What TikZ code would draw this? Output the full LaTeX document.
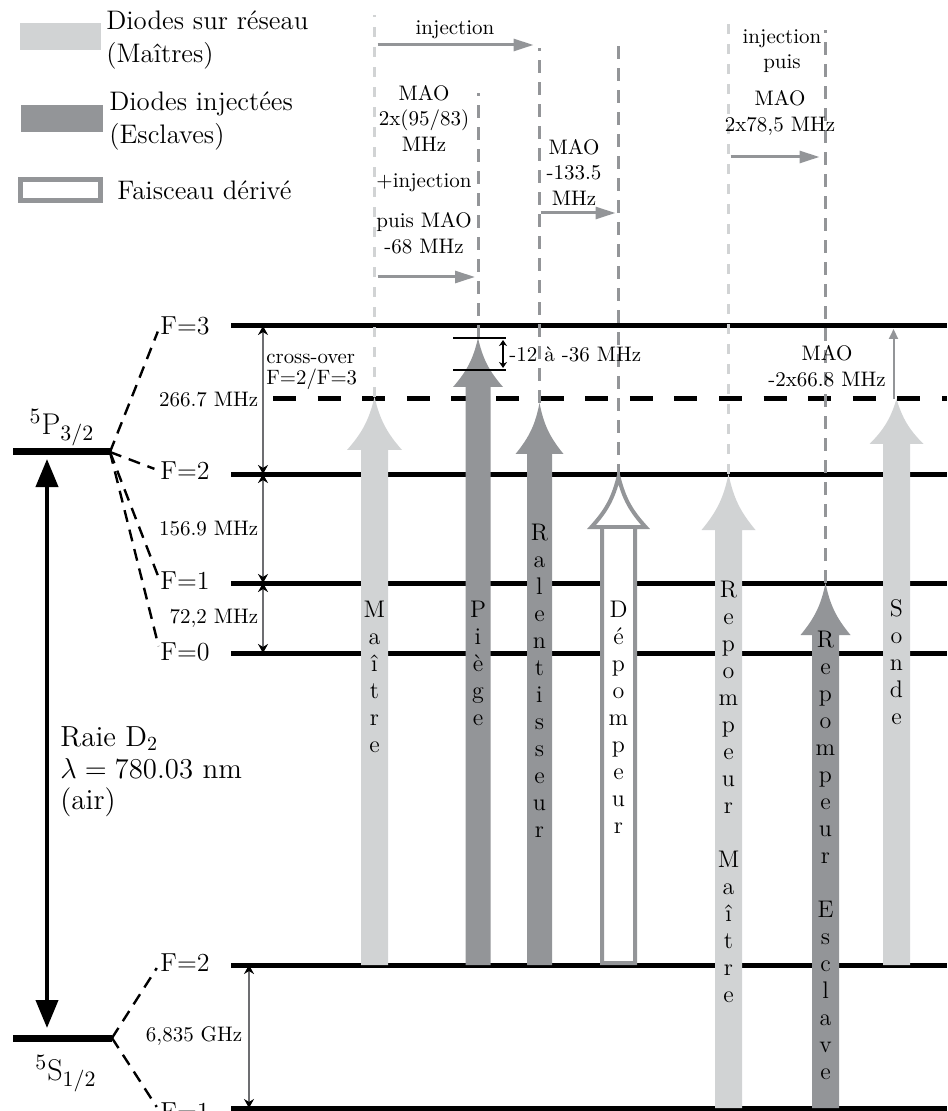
\documentclass[tikz,border=0pt]{standalone}
\usepackage{fontspec}
\usepackage{amsmath}
\usetikzlibrary{arrows.meta}

\definecolor{clair}{HTML}{D1D3D4}
\definecolor{fonce}{HTML}{939598}
\definecolor{trait}{HTML}{6D6E71}

% faisceau : nom, style, x, bas, base de la tete, pointe, demi-largeur, demi-tete
\newcommand{\faisceau}[8]{%
  \fill[#2] (#3-#7,#4) -- (#3-#7,#5) -- (#3-#8,#5) to[bend right=14] (#3,#6)
    to[bend right=14] (#3+#8,#5) -- (#3+#7,#5) -- (#3+#7,#4) -- cycle;
  \coordinate (#1) at (#3,#6);}

\begin{document}
\begin{tikzpicture}[x=0.5pt,y=-0.5pt,
  niveau/.style={line width=2.5pt},
  sousniv/.style={line width=1.2pt,dash pattern=on 6pt off 4pt},
  ecart/.style={draw=trait,line width=0.7pt,{Stealth[length=4.5pt,width=5pt,color=black]}-{Stealth[length=4.5pt,width=5pt,color=black]}},
  guideclair/.style={draw=clair,line width=1.5pt,dash pattern=on 5pt off 5pt},
  guidefonce/.style={draw=fonce,line width=1.5pt,dash pattern=on 6.5pt off 4.5pt},
  mao/.style={draw=fonce,line width=1.5pt,-{Triangle[length=10pt,width=6pt]}},
  petit/.style={font=\fontsize{10.5}{12.75}\selectfont,align=center,inner sep=0pt},
  etat/.style={font=\fontsize{13}{15}\selectfont,inner sep=0pt},
  lettres/.style={font=\fontsize{12}{13.5}\selectfont,align=center,inner sep=0pt,anchor=north},
  legende/.style={font=\fontsize{13.4}{16.5}\selectfont,align=left,inner sep=0pt,anchor=west}]
\useasboundingbox (0,0) rectangle (947,1111);

% legende
\fill[clair] (20,23) rectangle (101,50);
\node[legende] (lgmaitre) at (106,40) {Diodes sur réseau\\(Maîtres)};
\fill[fonce] (21,105) rectangle (103,132);
\node[legende] (lgesclave) at (109,121) {Diodes injectées\\(Esclaves)};
\draw[fonce,line width=2.5pt] (20.5,179.5) rectangle (100.5,200.5);
\node[legende] (lgderive) at (117,190) {Faisceau dérivé};

% niveaux
\foreach \y in {326,474,583,653,965,1108} \draw[niveau] (231,\y) -- (947,\y);
\draw[niveau,dash pattern=on 11.5pt off 10.8pt] (273,399) -- (947,399);
\foreach \n/\y in {n3/326,n2/474,n1/583,n0/653} \coordinate (\n) at (263,\y);
\coordinate (m2) at (249,965); \coordinate (m1) at (249,1108);

\coordinate (p32g) at (13,452); \coordinate (p32) at (110,452);
\draw[line width=3.5pt] (p32g) -- (p32);
\node[etat,font=\fontsize{15}{17}\selectfont] (lp32) at (62,428) {$^{5}\mathrm{P}_{3/2}$};
\coordinate (s12g) at (13,1038); \coordinate (s12) at (112,1038);
\draw[line width=3.5pt] (s12g) -- (s12);
\node[etat,font=\fontsize{15}{17}\selectfont] (ls12) at (66,1074) {$^{5}\mathrm{S}_{1/2}$};

\node[etat] (e3) at (185,326) {F=3};
\node[etat] (e2) at (185,471) {F=2};
\node[etat] (e1) at (185,581) {F=1};
\node[etat] (e0) at (185,652) {F=0};
\node[etat] (g2) at (185,963) {F=2};
\node[etat] (g1) at (185,1112) {F=1};
\foreach \n in {e3,e2,e1,e0} \draw[sousniv,shorten >=3pt] (p32) -- (\n.west);
\foreach \n in {g2,g1} \draw[sousniv,shorten >=3pt] (s12) -- (\n.west);

\coordinate (haut) at (47,459); \coordinate (bas) at (47,1028);
\draw[line width=2pt,{Triangle[length=14pt,width=11pt]}-{Triangle[length=14pt,width=11pt]}] (haut) -- (bas);
\node[font=\fontsize{14.5}{15.8}\selectfont,align=left,anchor=west,inner sep=0pt] (raie) at (60,772)
  {Raie D$_2$\\$\lambda = 780.03$ nm\\(air)};

\draw[ecart] (n3) -- (n2) node[petit,midway,left=2pt] {266.7 MHz};
\draw[ecart] (n2) -- (n1) node[petit,midway,left=2pt] {156.9 MHz};
\draw[ecart] (n1) -- (n0) node[petit,midway,left=2pt] {72,2 MHz};
\draw[ecart] (m2) -- (m1) node[petit,midway,left=3pt] {6,835 GHz};
\node[font=\fontsize{10.4}{10.6}\selectfont,align=left,anchor=west,inner sep=0pt] (xover) at (266,372) {cross-over\\F=2/F=3};

% faisceaux
\faisceau{maitre}{clair}{374.5}{965}{450}{397}{13.5}{27.5}
\faisceau{piege}{fonce}{478}{965}{387}{338}{12.5}{25}
\faisceau{ralent}{fonce}{539.5}{965}{454}{403}{12.5}{24}
\faisceau{depomp}{draw=fonce,fill=white,line width=2pt}{618.5}{963}{527}{477}{16.5}{27}
\draw[fonce,line width=2pt] (602,527) -- (635,527);
\faisceau{repm}{clair}{728.5}{1108}{530}{474}{13.5}{27}
\faisceau{repe}{fonce}{825.5}{1108}{635}{583}{13.5}{25}
\faisceau{sonde}{clair}{896.5}{965}{444}{399}{13.5}{27}

\draw[guideclair] (maitre) -- (maitre |- 0,15);
\draw[guidefonce] (piege) -- (piege |- 0,93);
\draw[guidefonce] (ralent) -- (ralent |- 0,48);
\draw[guidefonce] (depomp) -- (depomp |- 0,40);
\draw[guideclair] (repm) -- (repm |- 0,15);
\draw[guidefonce] (repe) -- (repe |- 0,30);

\node[lettres] (lmaitre) at (374.5,601) {M\\a\\î\\t\\r\\e};
\node[lettres] (lpiege) at (478,601) {P\\i\\è\\g\\e};
\node[lettres] (lralent) at (539.5,524) {R\\a\\l\\e\\n\\t\\i\\s\\s\\e\\u\\r};
\node[lettres] (ldepomp) at (618.5,601) {D\\é\\p\\o\\m\\p\\e\\u\\r};
\node[lettres] (lrepm) at (728.5,581) {R\\e\\p\\o\\m\\p\\e\\u\\r\\[13.5pt]M\\a\\î\\t\\r\\e};
\node[lettres] (lrepe) at (825.5,631) {R\\e\\p\\o\\m\\p\\e\\u\\r\\[13.5pt]E\\s\\c\\l\\a\\v\\e};
\node[lettres] (lsonde) at (896.5,599) {S\\o\\n\\d\\e};

% decalages en frequence
\node[petit] (tinj) at (455,30) {injection};
\draw[mao,shorten <=1.5pt,shorten >=3pt] (maitre |- 0,45) -- (ralent |- 0,45);
\node[petit] (tmao1) at (424,118) {MAO\\2x(95/83)\\MHz};
\node[petit] (tplus) at (424,183) {+injection};
\node[petit] (tpuis) at (424,233) {puis MAO\\-68 MHz};
\draw[mao,shorten <=1.5pt,shorten >=1.5pt] (maitre |- 0,277) -- (piege |- 0,277);
\node[petit] (tmao2) at (574,172) {MAO\\-133.5\\MHz};
\draw[mao,shorten <=0.5pt,shorten >=1.5pt] (ralent |- 0,213) -- (depomp |- 0,213);
\node[petit] (tinj2) at (782,51) {injection\\puis};
\node[petit] (tmao3) at (780,113) {MAO\\2x78,5 MHz};
\draw[mao,shorten <=1pt,shorten >=3pt] (repm |- 0,157) -- (repe |- 0,157);

\node[petit] (tmao4) at (827,366) {MAO\\-2x66.8 MHz};
\draw[draw=fonce,line width=1pt,-{Triangle[length=5pt,width=4.5pt]},shorten >=1.5pt] ([xshift=-1.5pt]sonde) -- ([xshift=-1.5pt]sonde |- n3);

\coordinate (d1) at (453,338); \coordinate (d2) at (453,370);
\draw[line width=1pt] (d1) -- ++(53,0);
\draw[line width=1pt] (d2) -- ++(53,0);
\draw[line width=0.6pt,{Stealth[length=3pt,width=4pt]}-{Stealth[length=3pt,width=4pt]}] ([xshift=25pt,yshift=-1pt]d1) -- ([xshift=25pt,yshift=1pt]d2);
\node[petit,anchor=west] (tdelta) at (509,354) {-12 à -36 MHz};
\end{tikzpicture}
\end{document}
